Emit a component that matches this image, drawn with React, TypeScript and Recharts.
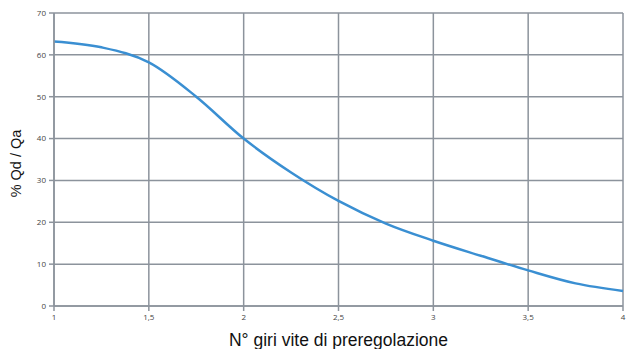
import { LineChart, Line, XAxis, YAxis, CartesianGrid, Label } from 'recharts';

// giri vite (x) e portata percentuale Qd/Qa (y)
const turns = [1, 1.25, 1.5, 1.75, 2, 2.25, 2.5, 2.75, 3, 3.25, 3.5, 3.75, 4];
const flowPct = [63.2, 61.8, 58.2, 50, 40, 31.9, 25.1, 19.7, 15.6, 12.0, 8.5, 5.4, 3.6];

const xTicks = [1, 1.5, 2, 2.5, 3, 3.5, 4];
const yTicks = [0, 10, 20, 30, 40, 50, 60, 70];

const data = turns.map((t, i) => ({ turns: t, flow: flowPct[i] }));

const GRID = '#8c939c';
const TICK_FONT = { fontSize: 8, fill: '#444', fontFamily: 'Open Sans, sans-serif' };

const App = () => {
  return (
    <div style={{ position: 'absolute', top: 0, left: 0, background: '#fff' }}>
      <LineChart
        width={627}
        height={349}
        data={data}
        margin={{ top: 13, right: 4, left: 0, bottom: 13 }}
      >
        <CartesianGrid stroke={GRID} strokeWidth={1.5} />
        <XAxis
          dataKey="turns"
          type="number"
          domain={[1, 4]}
          ticks={xTicks}
          tickFormatter={(v: number) => String(v).replace('.', ',')}
          tick={TICK_FONT}
          tickSize={5}
          tickMargin={3}
          stroke={GRID}
          strokeWidth={1.5}
          height={30}
        >
          <Label
            value="N° giri vite di preregolazione"
            position="insideBottom"
            offset={-10}
            style={{ fontSize: 17.5, fill: '#111', fontFamily: 'Liberation Sans, Arial, sans-serif' }}
          />
        </XAxis>
        <YAxis
          type="number"
          domain={[0, 70]}
          ticks={yTicks}
          tick={TICK_FONT}
          tickSize={5}
          tickMargin={3}
          stroke={GRID}
          strokeWidth={1.5}
          width={54}
        >
          <Label
            value="% Qd / Qa"
            angle={-90}
            position="insideLeft"
            offset={16}
            dy={4}
            style={{ fontSize: 14.5, fill: '#111', fontFamily: 'Liberation Sans, Arial, sans-serif', textAnchor: 'middle' }}
          />
        </YAxis>
        <Line
          type="monotone"
          dataKey="flow"
          stroke="#3a8fd2"
          strokeWidth={2.5}
          dot={false}
          isAnimationActive={false}
        />
      </LineChart>
    </div>
  );
};

export default App;
